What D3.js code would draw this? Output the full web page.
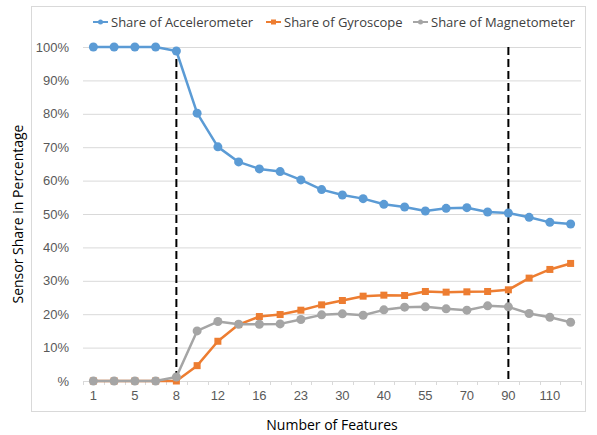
<!DOCTYPE html>
<html>
<head>
<meta charset="utf-8">
<script src="https://cdn.jsdelivr.net/npm/d3@7"></script>
<style>
  body { margin: 0; background: #fff; }
  svg { font-family: "Open Sans", sans-serif; }
</style>
</head>
<body>
<svg width="597" height="435"></svg>
<script>
// number of features (odd ones are not labelled on the axis)
var features = ["1", "3", "5", "7", "8", "10", "12", "14", "16", "18", "23", "27",
  "30", "35", "40", "45", "55", "60", "70", "80", "90", "100", "110", "120"];

var accel = [100, 100, 100, 100, 98.8, 80.2, 70.1, 65.6, 63.5, 62.7, 60.2, 57.3,
  55.7, 54.6, 52.9, 52.1, 50.9, 51.7, 51.9, 50.6, 50.3, 49.0, 47.5, 47.0];
var gyro = [0, 0, 0, 0, 0, 4.6, 11.9, 16.9, 19.3, 19.9, 21.2, 22.8,
  24.1, 25.4, 25.7, 25.6, 26.8, 26.6, 26.7, 26.8, 27.3, 30.8, 33.4, 35.2];
var magnet = [0, 0, 0, 0, 1.2, 15.0, 17.8, 17.0, 17.0, 17.1, 18.4, 19.8,
  20.1, 19.7, 21.3, 22.1, 22.2, 21.6, 21.2, 22.5, 22.2, 20.2, 19.1, 17.6];

var yTicks = [0, 10, 20, 30, 40, 50, 60, 70, 80, 90, 100];
var cutoffs = ["8", "90"];

var series = [
  { name: "Share of Accelerometer", values: accel, color: "#5b9bd5", marker: "circle" },
  { name: "Share of Gyroscope", values: gyro, color: "#ed7d31", marker: "square" },
  { name: "Share of Magnetometer", values: magnet, color: "#a5a5a5", marker: "circle" }
];

var svg = d3.select("svg"),
  margin = { top: 47, right: 16, bottom: 54, left: 83 },
  width = +svg.attr("width") - margin.left - margin.right,
  height = +svg.attr("height") - margin.top - margin.bottom;

// chart border
svg.append("rect")
  .attr("x", 31.5).attr("y", 6.5)
  .attr("width", 554).attr("height", 405)
  .attr("fill", "none").attr("stroke", "#d9d9d9");

var g = svg.append("g")
  .attr("transform", "translate(" + margin.left + "," + margin.top + ")");

var x = d3.scaleBand().domain(features).range([0, width]);
var y = d3.scaleLinear().domain([0, 100]).range([height, 0]);

// gridlines
g.append("g")
  .selectAll("line")
  .data(yTicks.slice(1))
  .enter().append("line")
  .attr("x1", 0).attr("x2", width)
  .attr("y1", function (d) { return y(d) + 0.5; })
  .attr("y2", function (d) { return y(d) + 0.5; })
  .attr("stroke", "#d9d9d9");

// y labels
var yAxis = g.append("g")
  .call(d3.axisLeft(y).tickValues(yTicks).tickSize(0).tickPadding(14)
    .tickFormat(function (d) { return d === 0 ? "%" : d + "%"; }));
yAxis.select(".domain").remove();
yAxis.selectAll("text").attr("fill", "#595959").attr("font-size", 13);

// x axis
var xAxis = g.append("g")
  .attr("transform", "translate(0," + height + ")")
  .call(d3.axisBottom(x).tickSize(0).tickPadding(10)
    .tickValues(features.filter(function (d, i) { return i % 2 === 0; })));
xAxis.select(".domain").remove();
xAxis.selectAll("text").attr("fill", "#595959").attr("font-size", 13);

g.append("line")
  .attr("x1", 0).attr("x2", width)
  .attr("y1", height + 0.5).attr("y2", height + 0.5)
  .attr("stroke", "#d9d9d9");

// minor ticks between categories
g.append("g")
  .selectAll("line")
  .data(d3.range(features.length + 1))
  .enter().append("line")
  .attr("x1", function (i) { return Math.round(i * x.bandwidth()) + 0.5; })
  .attr("x2", function (i) { return Math.round(i * x.bandwidth()) + 0.5; })
  .attr("y1", height).attr("y2", height + 4)
  .attr("stroke", "#d9d9d9");

// dashed cutoff lines
g.append("g")
  .selectAll("line")
  .data(cutoffs)
  .enter().append("line")
  .attr("x1", function (d) { return x(d) + x.bandwidth() / 2; })
  .attr("x2", function (d) { return x(d) + x.bandwidth() / 2; })
  .attr("y1", y(100)).attr("y2", y(0))
  .attr("stroke", "#000")
  .attr("stroke-width", 2)
  .attr("stroke-dasharray", "8,4");

var line = d3.line()
  .x(function (d, i) { return x(features[i]) + x.bandwidth() / 2; })
  .y(function (d) { return y(d); });

// series in order, later ones on top
series.forEach(function (s) {
  var sg = g.append("g");
  sg.append("path")
    .datum(s.values)
    .attr("fill", "none")
    .attr("stroke", s.color)
    .attr("stroke-width", 2.5)
    .attr("stroke-linejoin", "round")
    .attr("d", line);

  if (s.marker === "circle") {
    sg.selectAll("circle")
      .data(s.values)
      .enter().append("circle")
      .attr("cx", function (d, i) { return x(features[i]) + x.bandwidth() / 2; })
      .attr("cy", function (d) { return y(d); })
      .attr("r", 4.5)
      .attr("fill", s.color);
  } else {
    sg.selectAll("rect")
      .data(s.values)
      .enter().append("rect")
      .attr("x", function (d, i) { return x(features[i]) + x.bandwidth() / 2 - 3.5; })
      .attr("y", function (d) { return y(d) - 3.5; })
      .attr("width", 7).attr("height", 7)
      .attr("fill", s.color);
  }
});

// legend
var legendX = [93, 266, 413];
var legend = svg.append("g")
  .selectAll("g")
  .data(series)
  .enter().append("g")
  .attr("transform", function (d, i) { return "translate(" + legendX[i] + ",22)"; });

legend.append("line")
  .attr("x1", 0).attr("x2", 15)
  .attr("stroke", function (d) { return d.color; })
  .attr("stroke-width", 2);

legend.each(function (d) {
  var el = d3.select(this);
  if (d.marker === "circle") {
    el.append("circle").attr("cx", 7.5).attr("cy", 0).attr("r", 2.5).attr("fill", d.color);
  } else {
    el.append("rect").attr("x", 5).attr("y", -2.5).attr("width", 5).attr("height", 5).attr("fill", d.color);
  }
});

legend.append("text")
  .attr("x", 18)
  .attr("dy", "0.35em")
  .attr("font-size", 13)
  .attr("fill", "#404040")
  .text(function (d) { return d.name; });

// axis titles
svg.append("text")
  .attr("transform", "translate(18," + (margin.top + height / 2) + ") rotate(-90)")
  .attr("text-anchor", "middle")
  .attr("dy", "0.35em")
  .attr("font-size", 14)
  .attr("fill", "#000")
  .text("Sensor Share in Percentage");

svg.append("text")
  .attr("x", 332)
  .attr("y", 425)
  .attr("text-anchor", "middle")
  .attr("dy", "0.35em")
  .attr("font-size", 14)
  .attr("fill", "#000")
  .text("Number of Features");
</script>
</body>
</html>
